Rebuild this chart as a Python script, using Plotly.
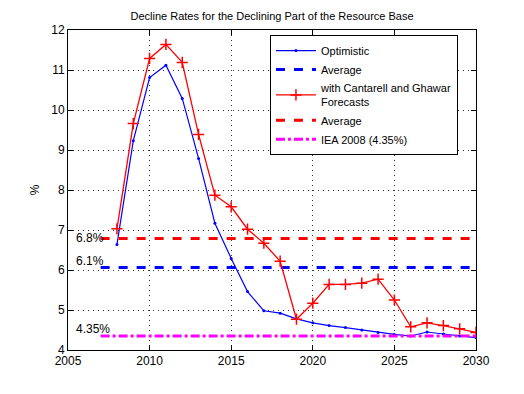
import plotly.graph_objects as go

years = list(range(2008, 2031))
optimistic = [6.64, 9.23, 10.81, 11.12, 10.29, 8.79, 7.17, 6.29, 5.46, 4.98, 4.92, 4.78,
              4.68, 4.61, 4.56, 4.50, 4.44, 4.39, 4.35, 4.45, 4.40, 4.35, 4.31]
cantarell = [7.03, 9.66, 11.29, 11.64, 11.19, 9.39, 7.87, 7.58, 7.02, 6.67, 6.22, 4.77,
             5.17, 5.64, 5.64, 5.67, 5.77, 5.25, 4.58, 4.68, 4.61, 4.53, 4.44]
avg_range = [2007, 2030]
avg_optimistic = 6.06
avg_cantarell = 6.79
iea_2008 = 4.35
labels = ["6.8%", "6.1%", "4.35%"]
label_y = [6.8, 6.23, 4.52]
x_ticks = [2005, 2010, 2015, 2020, 2025, 2030]
y_ticks = [4, 5, 6, 7, 8, 9, 10, 11, 12]

FONT = "Liberation Sans, Arial, Helvetica, sans-serif"

fig = go.Figure()
fig.add_trace(go.Scatter(x=years, y=optimistic, mode="lines+markers", name="Optimistic",
                         line=dict(color="#0000ff", width=1.2),
                         marker=dict(symbol="circle", size=3, color="#0000ff")))
fig.add_trace(go.Scatter(x=avg_range, y=[avg_optimistic] * 2, mode="lines", name="Average",
                         line=dict(color="#0000ff", width=3, dash="dash")))
fig.add_trace(go.Scatter(x=years, y=cantarell, mode="lines+markers",
                         name="with Cantarell and Ghawar<br>Forecasts",
                         line=dict(color="#ff0000", width=1.3),
                         marker=dict(symbol="cross-thin", size=8,
                                     line=dict(color="#ff0000", width=1.5))))
fig.add_trace(go.Scatter(x=avg_range, y=[avg_cantarell] * 2, mode="lines", name="Average",
                         line=dict(color="#ff0000", width=3, dash="dash")))
fig.add_trace(go.Scatter(x=avg_range, y=[iea_2008] * 2, mode="lines", name="IEA 2008 (4.35%)",
                         line=dict(color="#ff00ff", width=3, dash="dashdot")))

for txt, yv in zip(labels, label_y):
    fig.add_annotation(x=2005.35, y=yv, text=txt, showarrow=False, xanchor="left",
                       yanchor="middle", font=dict(family=FONT, size=12, color="black"))

axis_common = dict(showline=True, linecolor="black", linewidth=1, mirror="allticks",
                   ticks="inside", ticklen=5, tickcolor="black",
                   showgrid=True, gridcolor="#333333", griddash="1px,4px", gridwidth=1,
                   zeroline=False, tickfont=dict(family=FONT, size=12, color="black"))

fig.update_layout(
    width=516, height=386,
    margin=dict(l=60, r=48, t=22, b=44, autoexpand=False),
    paper_bgcolor="white", plot_bgcolor="white",
    title=dict(text="Decline Rates for the Declining Part of the Resource Base",
               xref="paper", x=0.5, xanchor="center", y=1 - 8 / 386, yanchor="middle",
               font=dict(family=FONT, size=11, color="black")),
    xaxis=dict(range=[2005, 2030], tickvals=x_ticks, **axis_common),
    yaxis=dict(range=[4, 12], tickvals=y_ticks, title=dict(text="%", standoff=9,
               font=dict(family=FONT, size=12, color="black")), **axis_common),
    legend=dict(x=0.495, y=0.984, xanchor="left", yanchor="top",
                bordercolor="black", borderwidth=1, bgcolor="white",
                font=dict(family=FONT, size=11, color="black"),
                itemwidth=40, tracegroupgap=0),
    showlegend=True,
)

fig.write_html("out.html")
